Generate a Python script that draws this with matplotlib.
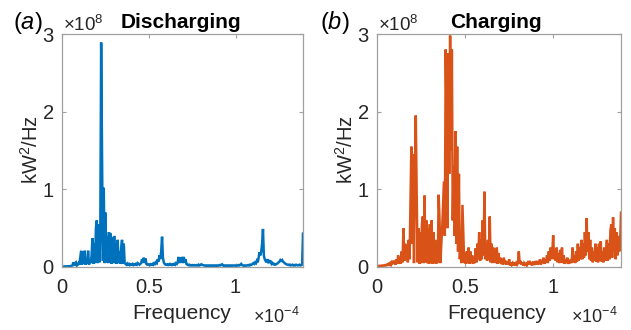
import numpy as np
import matplotlib
matplotlib.use('Agg')
import matplotlib.pyplot as plt

plt.rcParams['font.family'] = ['Liberation Sans', 'DejaVu Sans']
plt.rcParams['mathtext.fontset'] = 'custom'
plt.rcParams['mathtext.rm'] = 'Liberation Sans'
plt.rcParams['mathtext.it'] = 'Liberation Sans:italic'

# Power spectral density, in units of 1e8 kW^2/Hz, bins from 0 to 1.389e-4 Hz
discharging = [
    0.004, 0.006, 0.005, 0.008, 0.006, 0.009, 0.007, 0.01, 0.008, 0.012, 0.01, 0.015, 0.02, 0.06, 0.02, 0.05, 0.06, 0.02, 0.03, 0.05,
    0.03, 0.12, 0.21, 0.03, 0.2, 0.04, 0.21, 0.03, 0.1, 0.04, 0.21, 0.03, 0.1, 0.05, 0.15, 0.37, 0.04, 0.3, 0.05, 0.5,
    0.6, 0.05, 0.55, 0.06, 0.4, 2.89, 1.45, 0.08, 1.02, 0.05, 0.7, 0.06, 0.4, 0.05, 0.45, 0.06, 0.43, 0.04, 0.38, 0.05,
    0.4, 0.05, 0.3, 0.04, 0.35, 0.05, 0.2, 0.04, 0.25, 0.35, 0.04, 0.3, 0.05, 0.04, 0.03, 0.045, 0.03, 0.04, 0.025, 0.035,
    0.03, 0.04, 0.025, 0.035, 0.03, 0.04, 0.03, 0.05, 0.04, 0.03, 0.04, 0.05, 0.1, 0.06, 0.12, 0.05, 0.11, 0.04, 0.03, 0.035,
    0.03, 0.025, 0.035, 0.03, 0.04, 0.03, 0.05, 0.04, 0.06, 0.05, 0.1, 0.07, 0.15, 0.1, 0.2, 0.39, 0.12, 0.06, 0.04, 0.03,
    0.03, 0.035, 0.025, 0.03, 0.04, 0.03, 0.025, 0.035, 0.03, 0.04, 0.03, 0.05, 0.04, 0.06, 0.13, 0.05, 0.12, 0.06, 0.13, 0.05,
    0.13, 0.06, 0.1, 0.04, 0.03, 0.025, 0.03, 0.02, 0.025, 0.02, 0.025, 0.02, 0.025, 0.02, 0.02, 0.025, 0.02, 0.03, 0.02, 0.025,
    0.035, 0.03, 0.025, 0.02, 0.02, 0.015, 0.02, 0.015, 0.02, 0.015, 0.02, 0.015, 0.02, 0.015, 0.02, 0.015, 0.02, 0.015, 0.02, 0.015,
    0.02, 0.025, 0.02, 0.03, 0.035, 0.02, 0.015, 0.02, 0.015, 0.02, 0.015, 0.02, 0.015, 0.02, 0.015, 0.02, 0.015, 0.02, 0.02, 0.015,
    0.02, 0.015, 0.02, 0.025, 0.02, 0.03, 0.04, 0.025, 0.02, 0.015, 0.02, 0.015, 0.02, 0.02, 0.025, 0.02, 0.03, 0.025, 0.03, 0.04,
    0.05, 0.04, 0.06, 0.05, 0.08, 0.06, 0.12, 0.19, 0.15, 0.2, 0.3, 0.49, 0.15, 0.1, 0.08, 0.06, 0.1, 0.07, 0.09, 0.05,
    0.08, 0.04, 0.05, 0.035, 0.04, 0.03, 0.035, 0.04, 0.05, 0.06, 0.07, 0.09, 0.08, 0.09, 0.07, 0.06, 0.05, 0.04, 0.035, 0.03,
    0.03, 0.025, 0.03, 0.02, 0.025, 0.03, 0.02, 0.025, 0.02, 0.03, 0.025, 0.02, 0.025, 0.03, 0.02, 0.025, 0.03, 0.43,
]

charging = [
    0.01, 0.015, 0.01, 0.015, 0.012, 0.018, 0.015, 0.02, 0.018, 0.025, 0.02, 0.03, 0.025, 0.04, 0.03, 0.05, 0.03, 0.06, 0.04, 0.08,
    0.06, 0.03, 0.1, 0.04, 0.15, 0.05, 0.12, 0.04, 0.2, 0.06, 0.5, 0.08, 0.3, 0.1, 0.28, 0.06, 0.35, 0.1, 0.8, 1.55,
    0.3, 1.45, 0.05, 1.2, 1.95, 1.0, 0.06, 0.5, 0.04, 0.45, 0.05, 0.55, 0.65, 0.05, 0.92, 0.06, 0.6, 0.05, 0.5, 0.04,
    0.55, 0.05, 0.6, 0.04, 0.45, 0.05, 0.35, 0.04, 0.25, 0.05, 0.93, 0.6, 0.05, 0.3, 0.5, 0.8, 1.1, 0.4, 2.8, 1.9,
    0.5, 2.75, 1.2, 2.98, 1.5, 2.8, 0.6, 1.3, 0.4, 1.75, 0.3, 1.55, 0.2, 1.2, 0.1, 0.3, 0.05, 0.8, 0.4, 0.05,
    0.15, 0.04, 0.2, 0.05, 0.25, 0.04, 0.2, 0.05, 0.15, 0.04, 0.12, 0.05, 0.24, 0.06, 0.3, 0.1, 0.45, 0.08, 0.35, 0.1,
    0.6, 0.15, 0.97, 0.1, 0.3, 0.08, 0.35, 0.1, 0.65, 0.06, 0.3, 0.05, 0.25, 0.06, 0.22, 0.05, 0.25, 0.04, 0.18, 0.05,
    0.12, 0.04, 0.1, 0.03, 0.12, 0.04, 0.08, 0.03, 0.07, 0.03, 0.1, 0.02, 0.06, 0.03, 0.05, 0.02, 0.06, 0.02, 0.05, 0.03,
    0.05, 0.2, 0.04, 0.08, 0.03, 0.06, 0.02, 0.05, 0.03, 0.04, 0.02, 0.05, 0.03, 0.08, 0.03, 0.06, 0.02, 0.07, 0.03, 0.05,
    0.03, 0.08, 0.03, 0.07, 0.04, 0.1, 0.03, 0.08, 0.05, 0.12, 0.04, 0.1, 0.06, 0.15, 0.05, 0.2, 0.08, 0.25, 0.1, 0.18,
    0.41, 0.1, 0.2, 0.08, 0.25, 0.06, 0.18, 0.05, 0.22, 0.06, 0.25, 0.05, 0.15, 0.04, 0.1, 0.05, 0.12, 0.04, 0.08, 0.05,
    0.1, 0.05, 0.25, 0.06, 0.15, 0.05, 0.2, 0.07, 0.3, 0.08, 0.25, 0.1, 0.35, 0.1, 0.3, 0.12, 0.45, 0.15, 0.63, 0.2,
    0.45, 0.1, 0.35, 0.08, 0.25, 0.06, 0.2, 0.08, 0.3, 0.07, 0.25, 0.06, 0.3, 0.08, 0.33, 0.07, 0.2, 0.06, 0.25, 0.08,
    0.2, 0.35, 0.08, 0.3, 0.1, 0.47, 0.55, 0.12, 0.64, 0.2, 0.5, 0.1, 0.45, 0.15, 0.4, 0.2, 0.3, 0.7,
]

f_max = 1.389  # x 1e-4 Hz
x_ticks = [0, 0.5, 1]
x_ticklabels = ['0', '0.5', '1']
y_ticks = [0, 1, 2, 3]
y_ticklabels = ['0', '1', '2', '3']

panels = ['a', 'b']
titles = ['Discharging', 'Charging']
colors = ['#0072BD', '#D95319']

W, H = 631, 330
fig = plt.figure(figsize=(W / 100, H / 100), dpi=100)

# axes boxes in pixel coordinates (left, right)
boxes = [(62, 303), (377, 621)]
letter_x = [13, 320]
top, bottom = 34, 267

for k, (series, (x0, x1)) in enumerate(zip([discharging, charging], boxes)):
    ax = fig.add_axes([x0 / W, 1 - bottom / H, (x1 - x0) / W, (bottom - top) / H])
    freq = np.linspace(0, f_max, len(series))
    ax.plot(freq, series, color=colors[k], lw=1.8, solid_joinstyle='miter')

    ax.set_xlim(0, f_max)
    ax.set_ylim(0, 3)
    ax.set_xticks(x_ticks)
    ax.set_xticklabels(x_ticklabels)
    ax.set_yticks(y_ticks)
    ax.set_yticklabels(y_ticklabels)
    ax.tick_params(direction='in', length=3, width=0.8, top=True, right=True,
                   labelsize=14.5, colors='#a0a0a0', labelcolor='#262626')
    ax.tick_params(axis='y', pad=6)
    ax.tick_params(axis='x', pad=8)
    for s in ax.spines.values():
        s.set_color('#a0a0a0')
        s.set_linewidth(0.9)

    # axis labels
    fig.text((x0 + 120) / W, 1 - 319 / H, 'Frequency', fontsize=15,
             ha='center', va='baseline', color='#262626')
    fig.text((x0 - 31) / W, 1 - 150 / H, 'kW$^2$/Hz', fontsize=14.5, rotation=90,
             ha='center', va='center', color='#262626')

    # exponent labels
    fig.text((x0 + 1) / W, 1 - 31 / H, r'$\times10^{8}$', fontsize=13.5,
             ha='left', va='baseline', color='#262626')
    fig.text((x1 - 50) / W, 1 - 323 / H, r'$\times10^{-4}$', fontsize=13,
             ha='left', va='baseline', color='#262626')

    # title and panel letter
    fig.text((x0 + 119) / W, 1 - 28 / H, titles[k], fontsize=15, fontweight='bold',
             ha='center', va='baseline', color='black')
    fig.text(letter_x[k] / W, 1 - 29 / H, '(' + r'$\it{' + panels[k] + '}$' + ')',
             fontsize=17, ha='left', va='baseline', color='black')

fig.savefig('out.png', dpi=100)
